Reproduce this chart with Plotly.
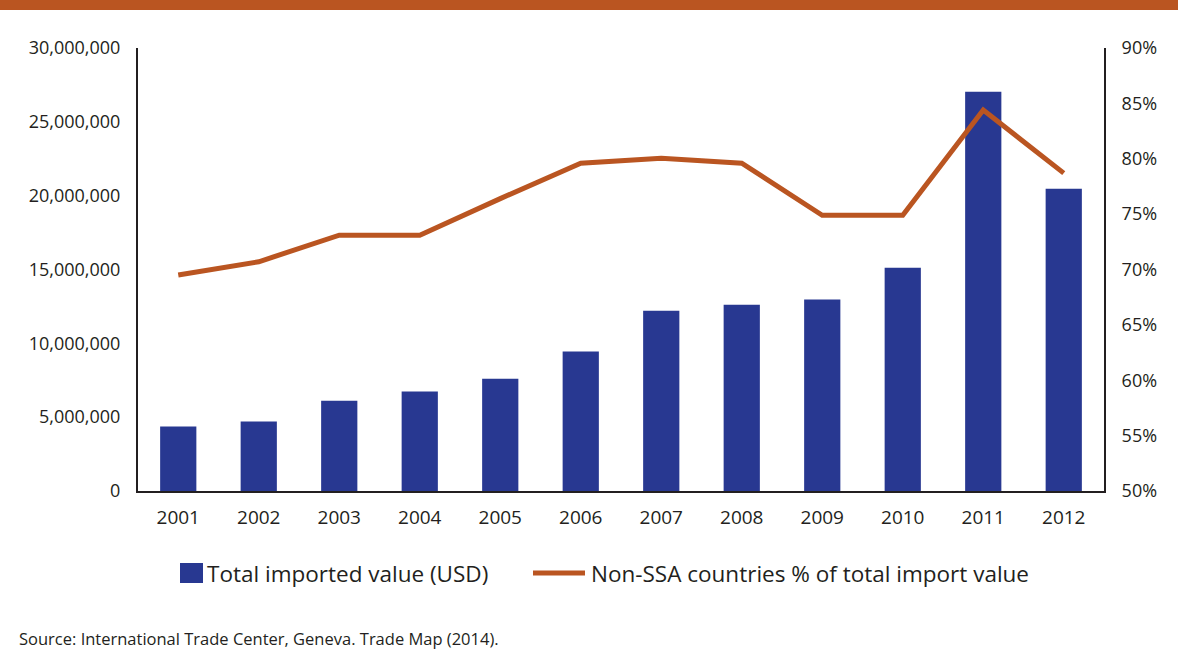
import plotly.graph_objects as go

years = ["2001", "2002", "2003", "2004", "2005", "2006",
         "2007", "2008", "2009", "2010", "2011", "2012"]
total_imported_usd = [4360000, 4700000, 6120000, 6730000, 7610000, 9440000,
                      12210000, 12620000, 12960000, 15120000, 27030000, 20470000]
non_ssa_share_pct = [69.5, 70.7, 73.1, 73.1, 76.4, 79.6,
                     80.05, 79.6, 74.9, 74.9, 84.4, 78.7]

BAR_NAME = "Total imported value (USD)"
LINE_NAME = "Non-SSA countries % of total import value"

BAR_BLUE = "#283891"
ORANGE = "#BA5521"
INK = "#231F20"
FONT = "Open Sans, Noto Sans, sans-serif"

fig = go.Figure()
fig.add_trace(go.Bar(
    x=years, y=total_imported_usd, name=BAR_NAME,
    marker=dict(color=BAR_BLUE, line=dict(width=0)),
))
fig.add_trace(go.Scatter(
    x=years, y=non_ssa_share_pct, name=LINE_NAME,
    yaxis="y2", mode="lines", line=dict(color=ORANGE, width=5),
))

# plot area: x 138..1104, y 48..491 in a 1178x667 page
left, right, top, bottom = 138, 1104, 48, 491
pw, ph = right - left, bottom - top


def px(x):
    return (x - left) / pw


def py(y):
    return (bottom - y) / ph


legend_y = 573
shapes = [
    # header band
    dict(type="rect", xref="paper", yref="paper",
         x0=px(0), x1=px(1178), y0=py(10), y1=py(0),
         fillcolor=ORANGE, line=dict(width=0), layer="above"),
    # legend swatches
    dict(type="rect", xref="paper", yref="paper",
         x0=px(180), x1=px(203), y0=py(583), y1=py(563),
         fillcolor=BAR_BLUE, line=dict(width=0)),
    dict(type="line", xref="paper", yref="paper",
         x0=px(533), x1=px(585), y0=py(legend_y), y1=py(legend_y),
         line=dict(color=ORANGE, width=5)),
]

annotations = [
    dict(text=BAR_NAME, xref="paper", yref="paper", x=px(205), y=py(legend_y),
         xanchor="left", yanchor="middle", showarrow=False,
         font=dict(size=22.5, color=INK)),
    dict(text=LINE_NAME, xref="paper", yref="paper", x=px(589), y=py(legend_y),
         xanchor="left", yanchor="middle", showarrow=False,
         font=dict(size=22.5, color=INK)),
    dict(text="Source: International Trade Center, Geneva. Trade Map (2014).",
         xref="paper", yref="paper", x=px(17), y=py(638),
         xanchor="left", yanchor="middle", showarrow=False,
         font=dict(size=16.5, color=INK)),
]

fig.update_layout(
    width=1178, height=667,
    margin=dict(l=left, r=1178 - right, t=top, b=667 - bottom),
    paper_bgcolor="white", plot_bgcolor="white",
    font=dict(family=FONT, size=18, color=INK),
    bargap=0.55,
    showlegend=False,
    xaxis=dict(showline=True, linecolor=INK, linewidth=2, ticks="",
               showgrid=False, tickfont=dict(size=19), ticklabelstandoff=8),
    yaxis=dict(range=[0, 30000000], dtick=5000000, tickformat=",d",
               showline=True, linecolor=INK, linewidth=2, ticks="",
               showgrid=False, zeroline=False, ticklabelstandoff=12),
    yaxis2=dict(range=[50, 90], dtick=5, ticksuffix="%", overlaying="y", side="right",
                showline=True, linecolor=INK, linewidth=2, ticks="",
                showgrid=False, zeroline=False, ticklabelstandoff=12),
    shapes=shapes,
    annotations=annotations,
)

fig.write_html("out.html")
